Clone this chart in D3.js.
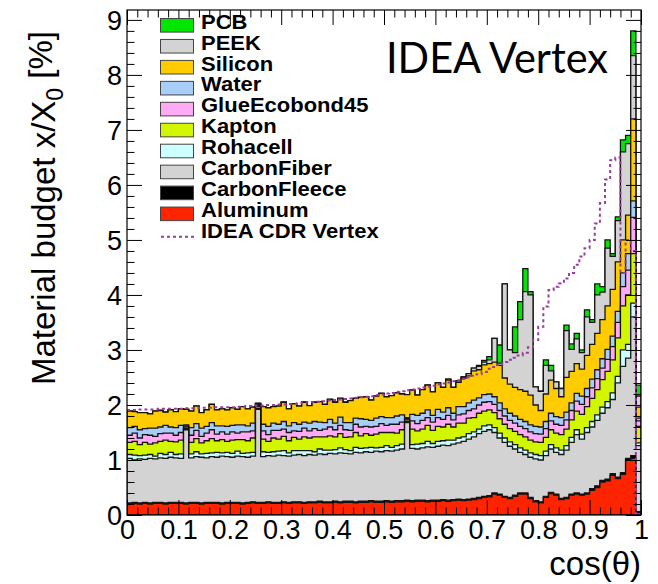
<!DOCTYPE html>
<html>
<head>
<meta charset="utf-8">
<script src="https://cdn.jsdelivr.net/npm/d3@7"></script>
<style>
  html, body { margin: 0; padding: 0; background: #fff; }
  svg { display: block; }
</style>
</head>
<body>
<svg id="chart" width="658" height="584"></svg>
<script>
// ---- Material budget per 0.01 bin in cos(theta), in % of X0 ----
const aluminum = [
  .20,.21,.20,.21,.20,.21,.21,.20,.21,.21,
  .21,.20,.21,.21,.20,.21,.21,.21,.20,.21,
  .21,.21,.20,.21,.22,.21,.21,.22,.21,.21,
  .22,.21,.22,.22,.21,.22,.22,.23,.22,.22,
  .23,.22,.23,.23,.22,.23,.23,.24,.23,.23,
  .24,.23,.24,.24,.25,.24,.25,.25,.24,.25,
  .25,.26,.25,.26,.27,.26,.27,.28,.30,.32,
  .33,.38,.36,.32,.30,.34,.38,.38,.30,.24,
  .22,.32,.39,.36,.28,.30,.36,.38,.36,.38,
  .45,.50,.60,.62,.72,.66,.74,1.00,1.03,.05];

const carbonFleece = [
  .02,.02,.02,.02,.02,.02,.02,.02,.02,.02,
  .02,.02,.02,.02,.02,.02,.02,.02,.02,.02,
  .02,.02,.02,.02,.02,.02,.02,.02,.02,.02,
  .02,.02,.02,.02,.02,.02,.02,.02,.02,.02,
  .02,.02,.02,.02,.02,.02,.02,.02,.02,.02,
  .02,.02,.02,.02,.02,.02,.02,.02,.02,.02,
  .02,.02,.02,.02,.02,.02,.02,.02,.02,.02,
  .02,.02,.02,.02,.02,.02,.02,.02,.02,.02,
  .02,.02,.02,.02,.02,.02,.02,.02,.02,.02,
  .03,.03,.03,.03,.03,.03,.03,.03,.05,.01];

const carbonFiber = [
  .81,.77,.80,.78,.81,.79,.81,.81,.82,.81,
  .80,1.33,.81,.83,.83,.81,.83,.82,.85,.83,
  .82,.84,.84,.82,.83,1.69,.83,.84,.84,.86,
  .84,.84,.85,.86,.85,.86,.85,.86,.86,.88,
  .86,.89,.87,.86,.90,.88,.90,.88,.91,.90,
  .91,.91,.92,.94,1.41,.95,.93,.95,.98,.96,
  .98,.99,.99,1.01,1.02,1.06,1.09,1.12,1.16,1.18,
  1.20,1.10,1.02,.98,.93,.84,.74,.70,.73,.76,
  .76,.74,.79,.76,.80,.86,.94,1.06,1.00,1.10,
  1.12,1.19,1.22,1.30,1.35,1.71,1.93,1.82,2.52,1.20];

const rohacell = [
  .07,.09,.06,.08,.07,.05,.08,.07,.09,.06,
  .08,.02,.07,.09,.06,.08,.07,.09,.06,.08,
  .07,.09,.06,.08,.07,.02,.09,.06,.08,.07,
  .09,.06,.08,.07,.09,.07,.06,.09,.08,.06,
  .08,.09,.07,.06,.09,.08,.07,.09,.06,.08,
  .09,.07,.08,.09,.02,.07,.09,.08,.10,.07,
  .09,.08,.10,.07,.09,.08,.10,.09,.08,.10,
  .09,.09,.09,.08,.08,.08,.08,.08,.08,.08,
  .08,.08,.08,.08,.08,.08,.09,.09,.09,.09,
  .10,.10,.11,.11,.12,.12,.30,.25,.25,.05];

const kapton = [
  .22,.25,.20,.23,.19,.24,.22,.26,.20,.23,
  .25,.03,.21,.24,.20,.23,.26,.21,.24,.20,
  .24,.21,.25,.22,.26,.03,.23,.20,.25,.22,
  .26,.22,.24,.21,.25,.23,.27,.22,.24,.26,
  .23,.26,.22,.25,.27,.23,.26,.22,.25,.27,
  .24,.27,.23,.26,.03,.28,.24,.26,.29,.24,
  .27,.25,.29,.24,.27,.25,.28,.26,.29,.27,
  .27,.27,.26,.25,.24,.24,.24,.24,.23,.23,
  .24,.25,.27,.27,.28,.30,.32,.34,.36,.38,
  .42,.46,.50,.55,.60,.70,.80,.90,.90,.30];

const glueEcobond45 = [
  .13,.15,.12,.14,.16,.12,.14,.13,.15,.12,
  .14,.02,.13,.15,.12,.14,.16,.12,.14,.13,
  .15,.12,.14,.16,.13,.02,.15,.12,.14,.16,
  .13,.15,.12,.14,.16,.13,.15,.12,.14,.16,
  .13,.15,.14,.12,.15,.16,.13,.15,.14,.16,
  .13,.15,.16,.14,.02,.15,.13,.16,.14,.15,
  .16,.14,.16,.13,.15,.17,.14,.16,.15,.16,
  .15,.15,.15,.15,.15,.15,.15,.15,.15,.15,
  .15,.16,.16,.16,.17,.17,.17,.18,.18,.18,
  .19,.20,.21,.22,.24,.28,.35,.45,.66,.10];

const water = [
  .14,.12,.15,.11,.13,.15,.12,.14,.11,.14,
  .13,.02,.14,.12,.15,.12,.13,.15,.11,.14,
  .12,.15,.13,.11,.14,.02,.12,.15,.13,.11,
  .14,.12,.15,.13,.11,.14,.13,.15,.12,.14,
  .12,.15,.13,.14,.11,.15,.13,.12,.15,.13,
  .14,.12,.15,.13,.02,.12,.15,.13,.14,.12,
  .15,.13,.14,.12,.15,.13,.14,.16,.13,.14,
  .14,.14,.14,.13,.13,.13,.13,.13,.13,.13,
  .13,.13,.14,.14,.14,.14,.14,.14,.15,.15,
  .16,.16,.17,.18,.19,.20,.25,.30,.30,.05];

const silicon = [
  .30,.27,.31,.29,.26,.31,.30,.24,.31,.29,
  .30,.28,.30,.32,.28,.30,.33,.29,.31,.30,
  .32,.28,.33,.31,.29,.02,.32,.34,.30,.33,
  .35,.31,.34,.33,.36,.32,.35,.37,.33,.36,
  .38,.34,.37,.40,.36,.39,.41,.37,.40,.42,
  .38,.40,.42,.38,.42,.44,.37,.43,.45,.43,
  .48,.45,.50,.47,.44,.52,.49,.53,.51,.54,
  .55,.63,.68,.56,.53,.52,.54,.55,.54,.39,
  .30,.50,.60,.51,.38,.63,.57,.54,.49,.60,
  .63,.66,.71,.79,.85,.90,.60,.70,1.49,.20];

const peek = [
  0,0,0,0,0,0,0,0,0,0,
  0,0,0,0,0,0,0,0,0,0,
  0,0,0,0,0,0,0,0,0,0,
  0,0,0,0,0,0,0,0,0,0,
  0,0,0,0,0,0,0,0,0,0,
  0,0,0,0,0,0,0,0,0,0,
  0,0,.02,0,.03,.02,.04,.05,.06,.05,
  .07,.43,.04,1.71,.62,.63,1.27,1.81,1.82,.33,
  .35,.52,.17,.12,.15,.85,.40,.45,.30,.70,
  .40,.70,.50,1.05,.60,.75,1.60,1.30,1.15,.20];

const pcb = [
  0,0,0,0,0,0,0,0,0,0,
  0,0,0,0,0,0,0,0,0,0,
  0,0,0,0,0,0,0,0,0,0,
  0,0,0,0,0,0,0,0,0,0,
  0,0,0,0,0,0,0,0,0,0,
  0,0,0,0,0,0,0,0,0,0,
  0,0,0,0,0,0,0,0,.02,.03,
  .06,0,.33,0,0,.47,.33,.42,.06,0,
  0,.10,.10,0,0,.10,.10,.10,.05,.13,
  .05,.20,.10,.15,.05,.07,.22,.15,.45,.20];

// Total of the previous (CDR) vertex design, same binning
const cdrVertex = [
  1.91,1.91,1.92,1.92,1.92,1.92,1.93,1.93,1.93,1.93,
  1.93,1.94,1.94,1.94,1.95,1.95,1.95,1.96,1.96,1.96,
  1.96,1.97,1.97,1.98,1.98,1.99,1.99,2.00,2.00,2.01,
  2.01,2.02,2.02,2.03,2.04,2.05,2.05,2.06,2.07,2.08,
  2.09,2.10,2.11,2.12,2.13,2.14,2.15,2.16,2.18,2.19,
  2.21,2.22,2.24,2.25,2.27,2.28,2.30,2.32,2.33,2.35,
  2.37,2.39,2.41,2.43,2.45,2.47,2.50,2.53,2.56,2.60,
  2.66,2.69,2.73,2.78,2.82,2.86,2.90,2.95,3.05,3.18,
  3.42,3.79,4.09,4.15,4.21,4.30,4.40,4.55,4.70,4.85,
  5.00,5.30,5.67,6.10,6.45,6.50,4.40,5.00,4.80,0];

// Stack order, bottom to top
const materialNames  = ["Aluminum","CarbonFleece","CarbonFiber","Rohacell","Kapton",
                        "GlueEcobond45","Water","Silicon","PEEK","PCB"];
const materialValues = [aluminum, carbonFleece, carbonFiber, rohacell, kapton,
                        glueEcobond45, water, silicon, peek, pcb];
const materialColors = ["#ff2400","#000000","#d3d3d3","#ccffff","#d2f500",
                        "#ffaaf4","#a8cdf7","#ffcc00","#d3d3d3","#00e600"];

const xTickValues = [0,0.1,0.2,0.3,0.4,0.5,0.6,0.7,0.8,0.9,1];
const xTickLabels = ["0","0.1","0.2","0.3","0.4","0.5","0.6","0.7","0.8","0.9","1"];
const yTickValues = [0,1,2,3,4,5,6,7,8,9];
const yTickLabels = ["0","1","2","3","4","5","6","7","8","9"];

// ---- Layout ----
const frame = { left: 127, right: 641, top: 10, bottom: 515 };
const nBins = aluminum.length;
const FONT = "'Liberation Sans', Arial, Helvetica, sans-serif";

const svg = d3.select("#chart");
svg.append("rect").attr("width", 658).attr("height", 584).attr("fill", "#fff");

const x = d3.scaleLinear().domain([0, 1]).range([frame.left, frame.right]);
const y = d3.scaleLinear().domain([0, 9.18]).range([frame.bottom, frame.top]);

svg.append("clipPath").attr("id", "plotClip")
  .append("rect")
  .attr("x", frame.left).attr("y", frame.top)
  .attr("width", frame.right - frame.left).attr("height", frame.bottom - frame.top);

const plot = svg.append("g").attr("clip-path", "url(#plotClip)");

// ---- Stacked histogram ----
const rows = d3.range(nBins).map(i => {
  const r = {};
  materialNames.forEach((n, k) => { r[n] = materialValues[k][i]; });
  return r;
});
const stacked = d3.stack().keys(materialNames)(rows);

const stepArea = d3.area()
  .x(d => x(d.e))
  .y0(y(0))
  .y1(d => y(d.v))
  .curve(d3.curveStepAfter);

// cumulative histograms, drawn from the top-most sum down
for (let k = stacked.length - 1; k >= 0; k--) {
  const pts = stacked[k].map((d, i) => ({ e: i / nBins, v: d[1] }));
  pts.push({ e: 1, v: stacked[k][nBins - 1][1] });
  plot.append("path")
    .attr("d", stepArea(pts))
    .attr("fill", materialColors[k])
    .attr("stroke", "#141414")
    .attr("stroke-width", 1.3)
    .attr("stroke-linejoin", "miter");
}

// ---- CDR comparison line ----
const stepLine = d3.line()
  .x(d => x(d.e))
  .y(d => y(d.v))
  .curve(d3.curveStepAfter);
const cdrPts = cdrVertex.map((v, i) => ({ e: i / nBins, v }));
cdrPts.push({ e: 1, v: cdrVertex[nBins - 1] });
plot.append("path")
  .attr("d", stepLine(cdrPts))
  .attr("fill", "none")
  .attr("stroke", "#993d99")
  .attr("stroke-width", 2)
  .attr("stroke-dasharray", "3,3");

// ---- Axes (ticks inside on all four sides) ----
const xMinor = d3.range(0, 51).map(i => i * 0.02).filter(v => Math.round(v * 50) % 5 !== 0);
const yMinor = d3.range(0, 46).map(i => i * 0.2).filter(v => v <= 9.18 && Math.round(v * 5) % 5 !== 0);

function styleAxis(g) {
  g.select(".domain").remove();
  g.selectAll("line").attr("stroke", "#000").attr("stroke-width", 1);
  g.selectAll("text").attr("font-family", FONT).attr("fill", "#000");
}

svg.append("g").attr("transform", `translate(0,${frame.bottom})`)
  .call(d3.axisBottom(x).tickValues(xTickValues).tickSize(-15).tickPadding(5)
        .tickFormat((d, i) => xTickLabels[i]))
  .call(styleAxis)
  .call(g => g.selectAll("text").attr("font-size", 27));
svg.append("g").attr("transform", `translate(0,${frame.bottom})`)
  .call(d3.axisBottom(x).tickValues(xMinor).tickSize(-7.5).tickFormat(""))
  .call(styleAxis);
svg.append("g").attr("transform", `translate(0,${frame.top})`)
  .call(d3.axisTop(x).tickValues(xTickValues).tickSize(-15).tickFormat(""))
  .call(styleAxis);
svg.append("g").attr("transform", `translate(0,${frame.top})`)
  .call(d3.axisTop(x).tickValues(xMinor).tickSize(-7.5).tickFormat(""))
  .call(styleAxis);

svg.append("g").attr("transform", `translate(${frame.left},0)`)
  .call(d3.axisLeft(y).tickValues(yTickValues).tickSize(-15).tickPadding(5)
        .tickFormat((d, i) => yTickLabels[i]))
  .call(styleAxis)
  .call(g => g.selectAll("text").attr("font-size", 27).attr("dy", "0.36em"));
svg.append("g").attr("transform", `translate(${frame.left},0)`)
  .call(d3.axisLeft(y).tickValues(yMinor).tickSize(-7.5).tickFormat(""))
  .call(styleAxis);
svg.append("g").attr("transform", `translate(${frame.right},0)`)
  .call(d3.axisRight(y).tickValues(yTickValues).tickSize(-15).tickFormat(""))
  .call(styleAxis);
svg.append("g").attr("transform", `translate(${frame.right},0)`)
  .call(d3.axisRight(y).tickValues(yMinor).tickSize(-7.5).tickFormat(""))
  .call(styleAxis);

svg.append("rect")
  .attr("x", frame.left).attr("y", frame.top)
  .attr("width", frame.right - frame.left).attr("height", frame.bottom - frame.top)
  .attr("fill", "none").attr("stroke", "#000").attr("stroke-width", 1.2);

// ---- Axis titles ----
svg.append("text")
  .attr("x", frame.right).attr("y", 575)
  .attr("text-anchor", "end")
  .attr("font-family", FONT).attr("font-size", 33)
  .text("cos(θ)");

const yTitle = svg.append("text")
  .attr("transform", "translate(55,385) rotate(-90)")
  .attr("font-family", FONT).attr("font-size", 33);
yTitle.append("tspan").text("Material budget x/X");
yTitle.append("tspan").attr("font-size", 23).attr("dy", "0.35em").text("0");
yTitle.append("tspan").attr("dy", "-0.35em").text(" [%]");

// ---- Detector label ----
svg.append("text")
  .attr("x", 386).attr("y", 73)
  .attr("font-family", "Lato, 'Open Sans', sans-serif").attr("font-size", 43)
  .attr("textLength", 222).attr("lengthAdjust", "spacingAndGlyphs")
  .text("IDEA Vertex");

// ---- Legend ----
const legendNames = materialNames.slice().reverse();
const legendColors = materialColors.slice().reverse();
const legend = svg.append("g");
const rowH = 20.95, row0 = 25.3;
legendNames.forEach((name, i) => {
  const cy = row0 + i * rowH;
  legend.append("rect")
    .attr("x", 160.5).attr("y", cy - 6.8).attr("width", 33).attr("height", 13.6)
    .attr("fill", legendColors[i]).attr("stroke", "#444").attr("stroke-width", 1);
  legend.append("text")
    .attr("transform", `translate(201,${cy + 3.3}) scale(1.1,1)`)
    .attr("font-family", FONT).attr("font-weight", "bold").attr("font-size", 20)
    .text(name);
});
{
  const cy = row0 + legendNames.length * rowH;
  legend.append("line")
    .attr("x1", 161).attr("x2", 194).attr("y1", cy + 2).attr("y2", cy + 2)
    .attr("stroke", "#993d99").attr("stroke-width", 2).attr("stroke-dasharray", "3,3");
  legend.append("text")
    .attr("transform", `translate(201,${cy + 3.3}) scale(1.1,1)`)
    .attr("font-family", FONT).attr("font-weight", "bold").attr("font-size", 20)
    .text("IDEA CDR Vertex");
}
</script>
</body>
</html>
